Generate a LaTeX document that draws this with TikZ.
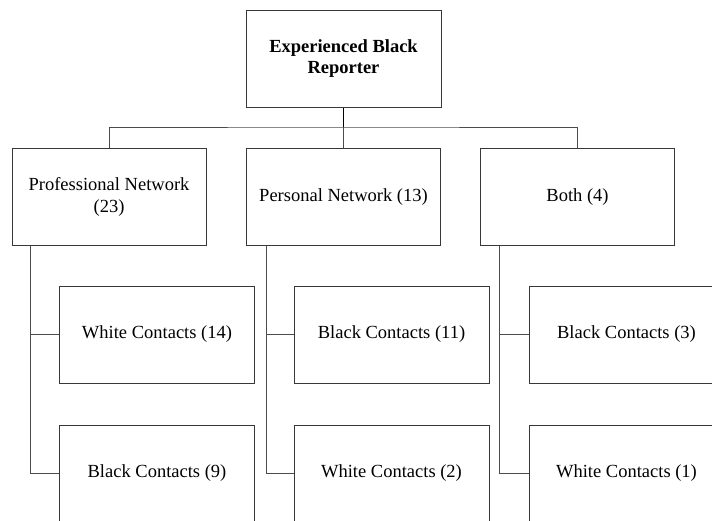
\documentclass[tikz,border=0pt]{standalone}
\usepackage{fontspec}
\setmainfont{Liberation Serif}
\begin{document}
\begin{tikzpicture}[x=1pt,y=-1pt,
  box/.style={draw=black!78, line width=1pt, fill=white, rectangle,
    minimum width=195pt, minimum height=97pt, inner sep=0pt, align=center,
    font=\fontsize{18.5}{21.5}\selectfont},
  link/.style={draw=black!70, line width=1pt},
  trunk/.style={draw=black, line width=1.8pt}]
\useasboundingbox (0,0) rectangle (712,520);
\clip (0,0) rectangle (712,520);

% root
\node[box, font=\fontsize{18.5}{21.5}\selectfont\bfseries] (root) at (343.5,58.5) {Experienced Black\\Reporter};

% second level
\node[box, minimum width=194pt] (prof) at (109,197)   {Professional Network\\(23)};
\node[box, minimum width=194pt] (pers) at (343.5,197) {Personal Network (13)};
\node[box, minimum width=194pt] (both) at (577.5,197) {Both (4)};

% third level
\node[box] (profW) at (157,334.5)   {White Contacts (14)};
\node[box] (profB) at (157,473.5)   {Black Contacts (9)};
\node[box] (persB) at (391.5,334.5) {Black Contacts (11)};
\node[box] (persW) at (391.5,473.5) {White Contacts (2)};
\node[box] (bothB) at (626.5,334.5) {Black Contacts (3)};
\node[box] (bothW) at (626.5,473.5) {White Contacts (1)};

% bus from the root to the three branches
\coordinate (bus) at (343.5,127);
\draw[trunk] (root.south) -- (bus);
\draw[link] (prof.north) |- (bus) -| (both.north);
\draw[link] (bus) -- (pers.north);

% side rails to the contact boxes
\coordinate (r1) at ([xshift=19pt]prof.south west);
\coordinate (r2) at ([xshift=20pt]pers.south west);
\coordinate (r3) at ([xshift=19pt]both.south west);
\draw[link] (r1) |- (profB.west);
\draw[link] (r1 |- profW.west) -- (profW.west);
\draw[link] (r2) |- (persW.west);
\draw[link] (r2 |- persB.west) -- (persB.west);
\draw[link] (r3) |- (bothW.west);
\draw[link] (r3 |- bothB.west) -- (bothB.west);
\end{tikzpicture}
\end{document}
